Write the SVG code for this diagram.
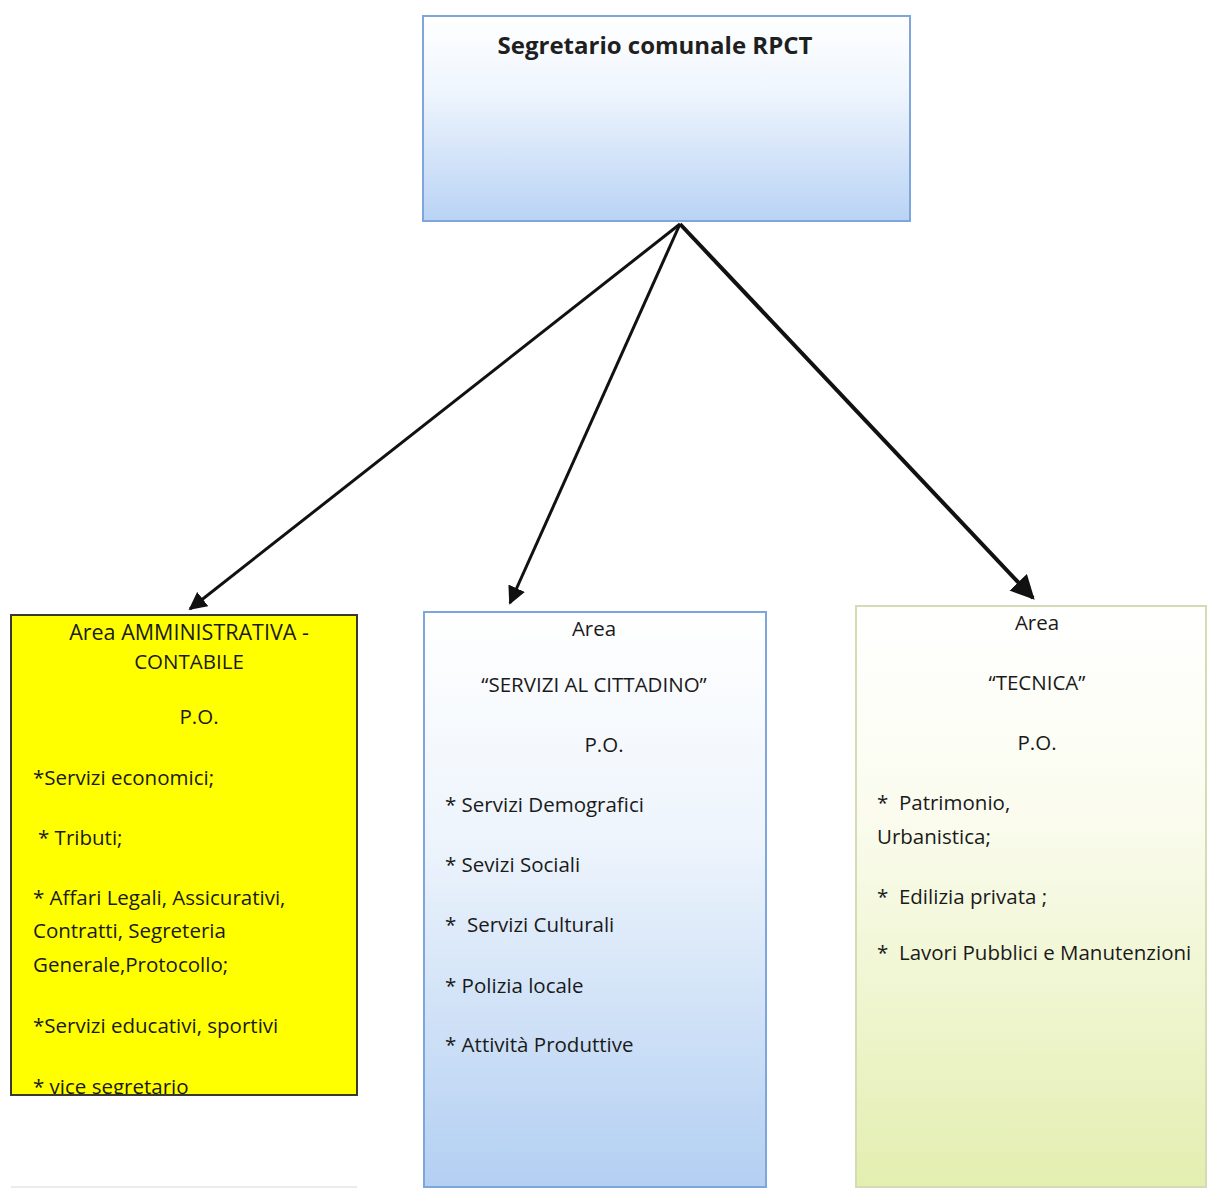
<svg xmlns="http://www.w3.org/2000/svg" width="1211" height="1188" viewBox="0 0 1211 1188">
<defs>
<linearGradient id="gBlue" x1="0" y1="0" x2="0" y2="1">
<stop offset="0" stop-color="#ffffff"/>
<stop offset="0.35" stop-color="#f0f6fd"/>
<stop offset="1" stop-color="#b9d3f5"/>
</linearGradient>
<linearGradient id="gBlue2" x1="0" y1="0" x2="0" y2="1">
<stop offset="0" stop-color="#ffffff"/>
<stop offset="0.4" stop-color="#edf4fc"/>
<stop offset="1" stop-color="#b3cff2"/>
</linearGradient>
<linearGradient id="gGreen" x1="0" y1="0" x2="0" y2="1">
<stop offset="0" stop-color="#ffffff"/>
<stop offset="0.35" stop-color="#fbfcef"/>
<stop offset="1" stop-color="#e3eeb0"/>
</linearGradient>
<marker id="ah" viewBox="0 0 10 10" refX="9" refY="5" markerWidth="6" markerHeight="6" markerUnits="strokeWidth" orient="auto">
<path d="M0,0 L10,5 L0,10 z" fill="#111"/>
</marker>
<clipPath id="clipL"><rect x="12" y="616" width="344" height="478"/></clipPath>
<style>
text{font-family:"Open Sans","Noto Sans","Liberation Sans",sans-serif;fill:#1a1a1a;font-size:20.5px;white-space:pre}
.c{text-anchor:middle}
.t{font-weight:bold;font-size:24px;fill:#1f1f1f}
.h{font-size:21.5px}
.conn{stroke:#111;stroke-width:3;fill:none}
</style>
</defs>
<g id="connectors">
<line class="conn" x1="680" y1="224" x2="190" y2="609" marker-end="url(#ah)"/>
<line class="conn" x1="680" y1="224" x2="510" y2="603" marker-end="url(#ah)"/>
<line class="conn" x1="680" y1="224" x2="1033" y2="598" style="stroke-width:4" marker-end="url(#ah)"/>
</g>
<g id="node-rpct">
<rect x="423" y="16" width="487" height="205" fill="url(#gBlue)" stroke="#7fa6dc" stroke-width="2"/>
<text class="c t" x="655" y="54">Segretario comunale RPCT</text>
</g>
<g id="node-amministrativa">
<rect x="11" y="615" width="346" height="480" fill="#ffff00" stroke="#3a3a2a" stroke-width="2"/>
<g clip-path="url(#clipL)">
<text class="c h" x="189" y="640">Area AMMINISTRATIVA -</text>
<text class="c" x="189" y="669">CONTABILE</text>
<text class="c" x="199" y="724">P.O.</text>
<text x="33" y="785">*Servizi economici;</text>
<text x="38" y="845">* Tributi;</text>
<text x="33" y="905">* Affari Legali, Assicurativi,</text>
<text x="33" y="938">Contratti, Segreteria</text>
<text x="33" y="972">Generale,Protocollo;</text>
<text x="33" y="1033">*Servizi educativi, sportivi</text>
<text x="33" y="1094">* vice segretario</text>
</g>
</g>
<line x1="11" y1="1187" x2="357" y2="1187" stroke="#d8d8d8" stroke-width="1"/>
<g id="node-servizi">
<rect x="424" y="612" width="342" height="575" fill="url(#gBlue2)" stroke="#7fa6dc" stroke-width="2"/>
<text class="c" x="594" y="636">Area</text>
<text class="c" x="594" y="692">“SERVIZI AL CITTADINO”</text>
<text class="c" x="604" y="752">P.O.</text>
<text x="445" y="812">* Servizi Demografici</text>
<text x="445" y="872">* Sevizi Sociali</text>
<text x="445" y="932">*  Servizi Culturali</text>
<text x="445" y="993">* Polizia locale</text>
<text x="445" y="1052">* Attività Produttive</text>
</g>
<g id="node-tecnica">
<rect x="856" y="606" width="350" height="581" fill="url(#gGreen)" stroke="#d4dcb4" stroke-width="2"/>
<text class="c" x="1037" y="630">Area</text>
<text class="c" x="1037" y="690">“TECNICA”</text>
<text class="c" x="1037" y="750">P.O.</text>
<text x="877" y="810">*  Patrimonio,</text>
<text x="877" y="844">Urbanistica;</text>
<text x="877" y="904">*  Edilizia privata ;</text>
<text x="877" y="960">*  Lavori Pubblici e Manutenzioni</text>
</g>
</svg>
